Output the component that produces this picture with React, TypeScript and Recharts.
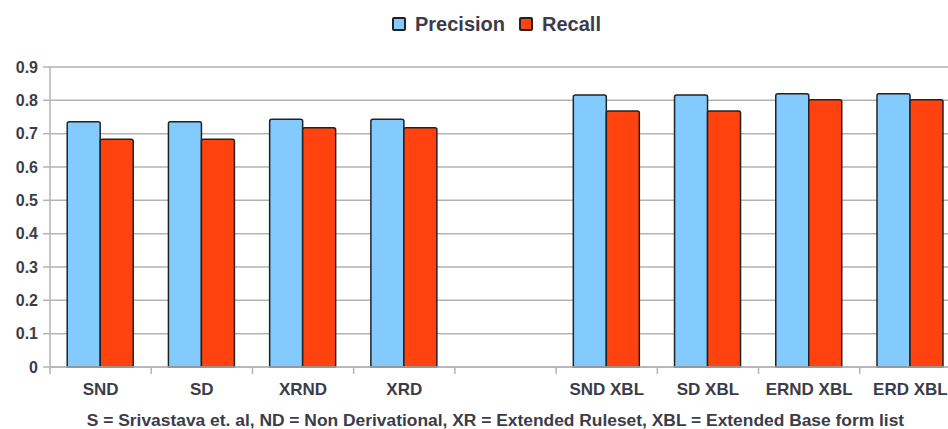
import { BarChart, Bar, XAxis, YAxis, CartesianGrid, Legend } from "recharts";

const CATEGORIES = ["SND", "SD", "XRND", "XRD", "", "SND XBL", "SD XBL", "ERND XBL", "ERD XBL"]
const PRECISION = [0.736, 0.736, 0.743, 0.743, null, 0.816, 0.816, 0.82, 0.82]
const RECALL = [0.683, 0.683, 0.718, 0.718, null, 0.768, 0.768, 0.802, 0.802]
const Y_TICKS = [0, 0.1, 0.2, 0.3, 0.4, 0.5, 0.6, 0.7, 0.8, 0.9]
const CAPTION = "S = Srivastava et. al, ND = Non Derivational, XR = Extended Ruleset, XBL = Extended Base form list"

const SERIES = [
    { key: "Precision", color: "#83caff" },
    { key: "Recall", color: "#ff420e" },
]

const data = CATEGORIES.map((name, i) => ({ name, Precision: PRECISION[i], Recall: RECALL[i] }))

const FONT = "'Liberation Sans', Arial, sans-serif"
const TEXT = "#3c3c48"
const GRID = "#b3b3b3"

function XTick({ x, y, payload }: any) {
    const half = payload?.offset ?? 50.6
    return (
        <g>
            <line x1={x - half} x2={x - half} y1={y} y2={y + 7} stroke={GRID} strokeWidth={1.5} />
            <text x={x} y={y + 28} textAnchor="middle" fontFamily={FONT} fontWeight="bold" fontSize={17} fill={TEXT}>
                {payload.value}
            </text>
        </g>
    )
}

function LegendContent() {
    return (
        <div style={{ height: 67, display: "flex", justifyContent: "flex-start", paddingTop: 12, paddingLeft: 392, boxSizing: "border-box", fontFamily: FONT }}>
            {SERIES.map((s) => (
                <div key={s.key} style={{ display: "flex", alignItems: "center", height: 24, marginRight: 14 }}>
                    <span style={{ width: 10, height: 10, background: s.color, border: "2px solid #222", borderRadius: 2, marginRight: 9 }}></span>
                    <span style={{ fontSize: 20, fontWeight: "bold", color: TEXT }}>{s.key}</span>
                </div>
            ))}
        </div>
    )
}

export default function App() {
    return (
        <div style={{ position: "absolute", left: 0, top: 0, width: 948, height: 429, overflow: "hidden", background: "#fff" }}>
            <BarChart width={990} height={429} data={data}
                margin={{ top: 0, right: 29, bottom: 0, left: 0 }}
                barCategoryGap={"17%"} barGap={0}>
                <CartesianGrid vertical={false} stroke={GRID} strokeWidth={1.5} />
                <Legend verticalAlign="top" align="left" wrapperStyle={{ top: 0, left: 0, width: 990 }} content={() => <LegendContent />} />
                <XAxis dataKey="name" height={62} tickLine={false} tickSize={0} tickMargin={0}
                    stroke={GRID} strokeWidth={1.5} tick={<XTick />} interval={0}
                    label={{ value: CAPTION, position: "insideBottom", offset: 0, dx: -10, dy: -3, fontFamily: FONT, fontWeight: "bold", fontSize: 17.4, fill: TEXT }} />
                <YAxis width={50} domain={[0, 0.9]} ticks={Y_TICKS} interval={0} tickSize={7} tickMargin={5}
                    stroke={GRID} strokeWidth={1.5}
                    tick={{ fontFamily: FONT, fontWeight: "bold", fontSize: 16, fill: TEXT }} />
                {SERIES.map((s) => (
                    <Bar key={s.key} dataKey={s.key} fill={s.color} stroke="#222" strokeWidth={1.5}
                        radius={[2, 2, 0, 0]} isAnimationActive={false} />
                ))}
            </BarChart>
        </div>
    )
}
